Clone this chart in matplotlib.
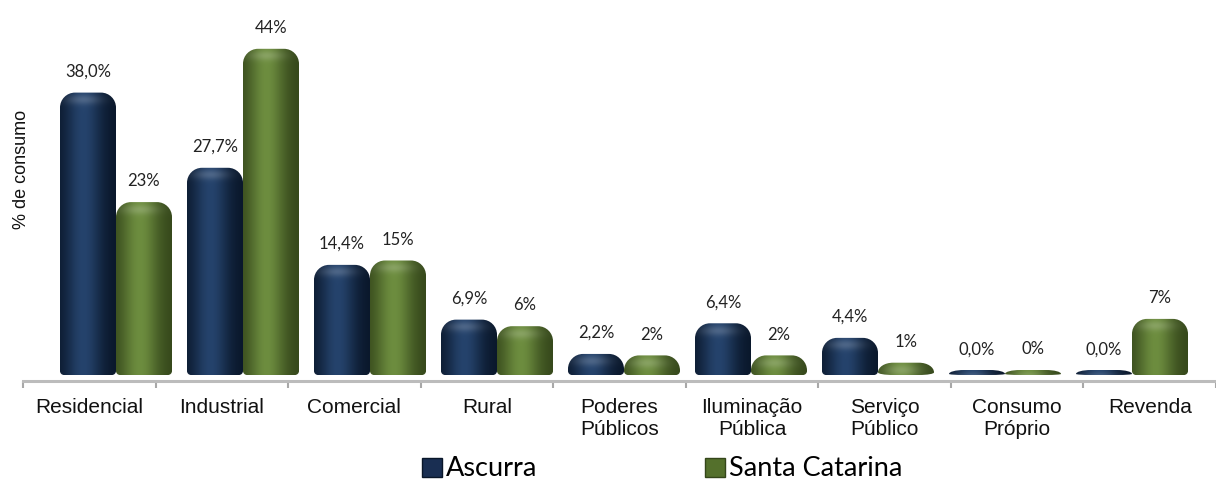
import numpy as np
import matplotlib.pyplot as plt
from matplotlib.path import Path
from matplotlib.patches import PathPatch, Patch
from matplotlib.colors import to_rgb

# consumo de energia por classe (%)
categorias = ['Residencial', 'Industrial', 'Comercial', 'Rural', 'Poderes\nPúblicos',
              'Iluminação\nPública', 'Serviço\nPúblico', 'Consumo\nPróprio', 'Revenda']
ascurra = [38.0, 27.7, 14.4, 6.9, 2.2, 6.4, 4.4, 0.0, 0.0]
santa_catarina = [23, 44, 15, 6, 2, 2, 1, 0, 7]

rot_ascurra = [f"{v:.1f}%".replace('.', ',') for v in ascurra]
rot_sc = [f"{v:.0f}%" for v in santa_catarina]

# cores (borda escura, centro claro)
azul = ('#091629', '#25436c')
verde = ('#34461a', '#6d8d3f')

W, H = 1216, 480
fig = plt.figure(figsize=(W / 100, H / 100), dpi=100)
ax = fig.add_axes([23 / W, (H - 381) / H, (W - 23) / W, 361 / H])

ppy = 7.3          # pixels por ponto percentual
base = 5 / ppy     # espessura da base do cilindro
ax.set_xlim(0, 9)
ax.set_ylim(-11 / ppy, 350 / ppy)
ppx = (W - 23) / 9

largura = 56 / ppx
desloc, passo = 93 / ppx, 127 / ppx   # perspectiva: barras um pouco mais juntas que as categorias


def caminho_barra(x0, x1, y0, y1, rt=15, rb=4):
    h_px = (y1 - y0) * ppy
    if rt + rb > h_px:
        f = h_px / (rt + rb)
        rty, rby = rt * f, rb * f
        rb = rt
    else:
        rty, rby = rt, rb
    rtx, rbx = rt / ppx, rb / ppx
    rty, rby = rty / ppy, rby / ppy
    k = 0.5523
    verts = [
        (x0 + rbx, y0), (x1 - rbx, y0),
        (x1 - rbx + k * rbx, y0), (x1, y0 + rby - k * rby), (x1, y0 + rby),
        (x1, y1 - rty),
        (x1, y1 - rty + k * rty), (x1 - rtx + k * rtx, y1), (x1 - rtx, y1),
        (x0 + rtx, y1),
        (x0 + rtx - k * rtx, y1), (x0, y1 - rty + k * rty), (x0, y1 - rty),
        (x0, y0 + rby),
        (x0, y0 + rby - k * rby), (x0 + rbx - k * rbx, y0), (x0 + rbx, y0),
        (x0 + rbx, y0),
    ]
    codes = [Path.MOVETO, Path.LINETO,
             Path.CURVE4, Path.CURVE4, Path.CURVE4,
             Path.LINETO,
             Path.CURVE4, Path.CURVE4, Path.CURVE4,
             Path.LINETO,
             Path.CURVE4, Path.CURVE4, Path.CURVE4,
             Path.LINETO,
             Path.CURVE4, Path.CURVE4, Path.CURVE4,
             Path.CLOSEPOLY]
    return Path(verts, codes)


def gradiente(cores, h_px):
    borda, centro = np.array(to_rgb(cores[0])), np.array(to_rgb(cores[1]))
    t = np.linspace(0, 1, 64)
    s = np.exp(-((t - 0.42) / 0.33) ** 2)
    img = borda[None, :] * (1 - s[:, None]) + centro[None, :] * s[:, None]
    n = max(int(h_px), 2)
    d = np.arange(n)[:, None]                      # pixels a partir do topo
    brilho = 0.18 * np.exp(-((d - 7) / 5.0) ** 2) * s[None, :]
    img = img[None, :, :] + brilho[:, :, None] * (1 - img[None, :, :])
    return np.clip(img, 0, 1)


def barra(x0, valor, cores):
    x1 = x0 + largura
    p = PathPatch(caminho_barra(x0, x1, -base, valor), facecolor='none', edgecolor='none')
    ax.add_patch(p)
    im = ax.imshow(gradiente(cores, (valor + base) * ppy), extent=(x0, x1, -base, valor),
                   aspect='auto', interpolation='bilinear', origin='upper', zorder=2)
    im.set_clip_path(p)


fonte_val = dict(fontsize=12, family='Lato', color='#222222', ha='center', va='center')
for i in range(len(categorias)):
    c = desloc + passo * i
    barra(c - largura, ascurra[i], azul)
    barra(c, santa_catarina[i], verde)
    ax.annotate(rot_ascurra[i], (c - largura / 2, ascurra[i]), xytext=(0, 15),
                textcoords='offset points', **fonte_val)
    ax.annotate(rot_sc[i], (c + largura / 2, santa_catarina[i]), xytext=(0, 15),
                textcoords='offset points', **fonte_val)

# eixo x
for lado in ['left', 'right', 'top']:
    ax.spines[lado].set_visible(False)
ax.spines['bottom'].set_color('#bcbcbc')
ax.spines['bottom'].set_linewidth(2.2)
ax.set_yticks([])
ax.set_xticks(np.arange(10))
ax.set_xticklabels([])
ax.tick_params(axis='x', which='major', length=5, width=1.5, color='#a8a8a8')
ax.set_xticks(np.arange(9) + 0.5, minor=True)
ax.set_xticklabels(categorias, minor=True, fontsize=15, family='Liberation Sans',
                   color='#111111', va='top')
ax.tick_params(axis='x', which='minor', length=0, pad=12)

fig.text(21 / W, 1 - 169 / H, '% de consumo', rotation=90, ha='center', va='center',
         fontsize=13, family='Liberation Sans', color='#111111')

alcas = [Patch(facecolor='#192e52', edgecolor='#091629'),
         Patch(facecolor='#54702c', edgecolor='#34461a')]
fig.legend(alcas, ['Ascurra', 'Santa Catarina'], loc='center', ncol=2,
           bbox_to_anchor=(662 / W, 1 - 469 / H), frameon=False,
           prop=dict(family='Lato', size=19.5), handlelength=0.75, handleheight=0.7,
           handletextpad=0.12, columnspacing=6.2, borderpad=0)

fig.savefig('out.png', dpi=100)
